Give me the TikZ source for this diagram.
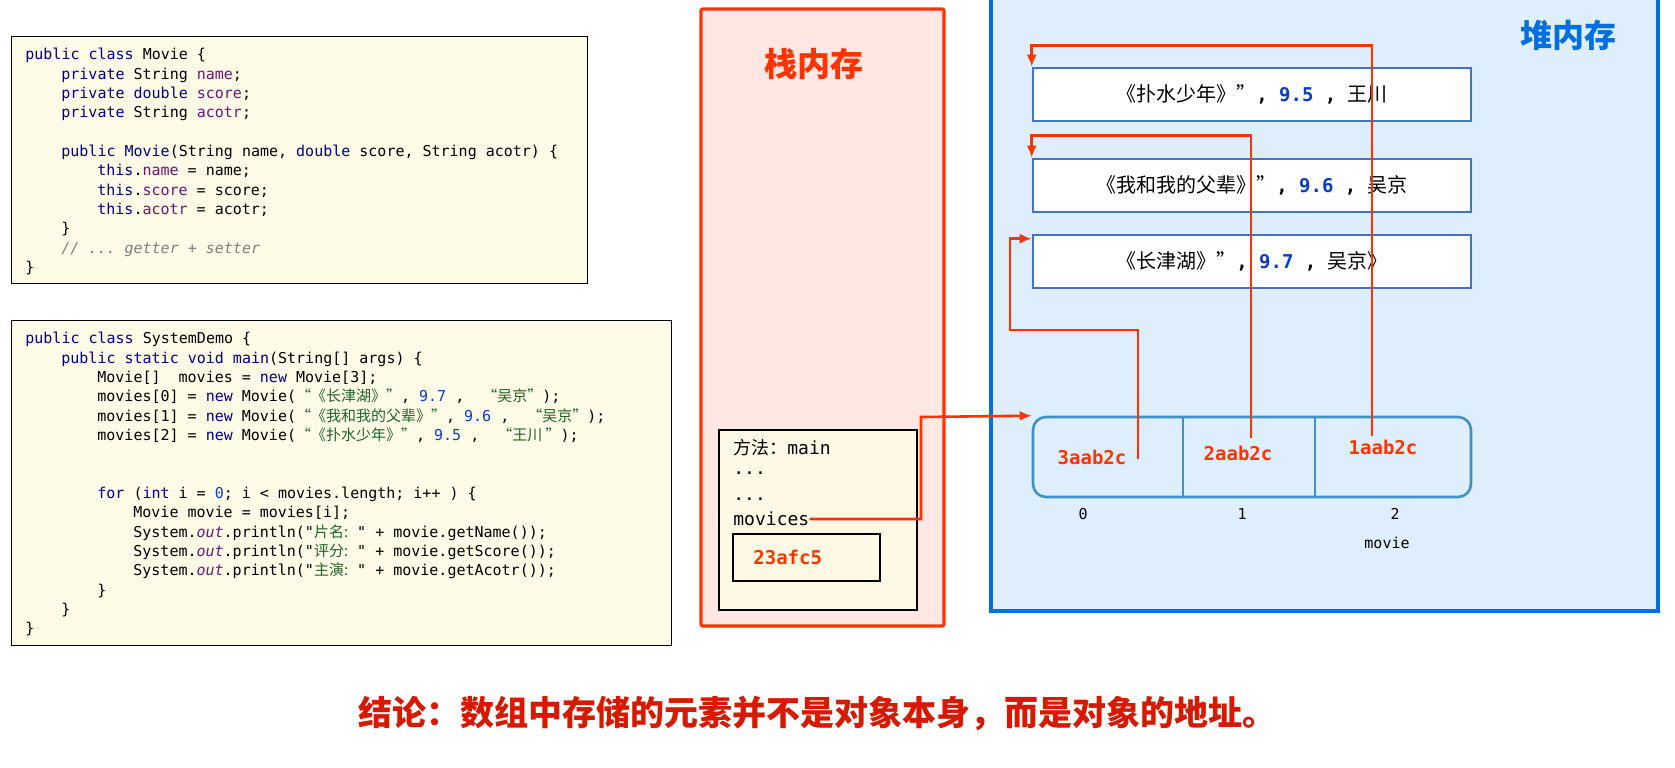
\documentclass[tikz,border=0pt]{standalone}
\usepackage{fontspec}
\setmonofont{DejaVu Sans Mono}
\newfontfamily\cjk{Noto Sans CJK SC}
\usetikzlibrary{arrows.meta}

\definecolor{stackred}{RGB}{255,51,0}
\definecolor{stackfill}{RGB}{255,231,228}
\definecolor{heapblue}{RGB}{0,112,224}
\definecolor{heapfill}{RGB}{222,238,253}
\definecolor{objblue}{RGB}{68,114,196}
\definecolor{arrblue}{RGB}{65,145,195}
\definecolor{cream}{RGB}{254,251,230}
\definecolor{framefill}{RGB}{255,248,228}
\definecolor{kwcol}{RGB}{0,0,140}
\definecolor{fdcol}{RGB}{110,20,120}
\definecolor{numcol}{RGB}{10,60,200}
\definecolor{strcol}{RGB}{30,100,40}
\definecolor{cmcol}{RGB}{128,128,128}
\definecolor{endred}{RGB}{215,25,0}

\newcommand\codefont{\ttfamily\fontsize{7.5}{9.67}\selectfont\frenchspacing}
\newcommand\ind[1]{\hspace*{#1\dimexpr0.6em\relax}}
\newcommand\kw[1]{{\color{kwcol}#1}}
\newcommand\fd[1]{{\color{fdcol}#1}}
\newcommand\jnum[1]{{\color{numcol}#1}}
\newcommand\jstr[1]{{\color{strcol}\cjk #1}}
\newcommand\jcm[1]{{\color{cmcol}\itshape #1}}
\newcommand\jout[1]{{\color{fdcol}\itshape #1}}
\newcommand\hnum[1]{{\ttfamily\bfseries\fontsize{9.5}{11}\selectfont, {\color{numcol}#1} , }}

\begin{document}
\begin{tikzpicture}[x=0.5pt,y=-0.5pt,
  codebox/.style={draw=black, line width=0.5pt, fill=cream},
  code/.style={font=\codefont, align=left, anchor=north west, inner sep=0pt},
  stacktxt/.style={font=\ttfamily\fontsize{9}{11}\selectfont, anchor=west, inner sep=0pt},
  objbox/.style={draw=objblue, line width=1.3pt, fill=white, minimum width=219pt,
    minimum height=26.5pt, font=\cjk\fontsize{10}{12}\selectfont},
  addr/.style={text=stackred, font=\ttfamily\bfseries\fontsize{9.5}{11}\selectfont},
  idx/.style={font=\ttfamily\fontsize{7.5}{9}\selectfont},
  ref/.style={draw=stackred, line width=1.3pt, -{Latex[length=6pt,width=5pt]}},
]
\useasboundingbox (0,0) rectangle (1675,767);

% code of the Movie class
\draw[codebox] (11,36) rectangle (587,283);
\node[code] (movieCode) at (25,48) {%
\kw{public class} Movie \{\\
\ind{4}\kw{private} String \fd{name};\\
\ind{4}\kw{private double} \fd{score};\\
\ind{4}\kw{private} String \fd{acotr};\\[9.67pt]
\ind{4}\kw{public Movie}(String name, \kw{double} score, String acotr) \{\\
\ind{8}\kw{this}.\fd{name} = name;\\
\ind{8}\kw{this}.\fd{score} = score;\\
\ind{8}\kw{this}.\fd{acotr} = acotr;\\
\ind{4}\}\\
\ind{4}\jcm{// ... getter + setter}\\
\}};

% code of the demo
\draw[codebox] (11,320) rectangle (671,645);
\node[code] (demoCode) at (25,332) {%
\kw{public class} SystemDemo \{\\
\ind{4}\kw{public static void main}(String[] args) \{\\
\ind{8}Movie[]\ \ movies = \kw{new} Movie[3];\\
\ind{8}movies[0] = \kw{new} Movie(\jstr{“《长津湖》”}, \jnum{9.7} ,\ \ \jstr{“吴京”});\\
\ind{8}movies[1] = \kw{new} Movie(\jstr{“《我和我的父辈》”}, \jnum{9.6} ,\ \ \jstr{“吴京”});\\
\ind{8}movies[2] = \kw{new} Movie(\jstr{“《扑水少年》”}, \jnum{9.5} ,\ \ \jstr{“王川 ”});\\[19.34pt]
\ind{8}\kw{for} (\kw{int} i = \jnum{0}; i < movies.length; i++ ) \{\\
\ind{12}Movie movie = movies[i];\\
\ind{12}System.\jout{out}.println("\jstr{片名:} " + movie.getName());\\
\ind{12}System.\jout{out}.println("\jstr{评分:} " + movie.getScore());\\
\ind{12}System.\jout{out}.println("\jstr{主演:} " + movie.getAcotr());\\
\ind{8}\}\\
\ind{4}\}\\
\}};

% stack memory
\draw[draw=stackred, line width=1.6pt, fill=stackfill, rounded corners=1pt] (701,9) rectangle (944,626);
\node[text=stackred, font=\cjk\bfseries\fontsize{16.5}{18}\selectfont] (stackTitle) at (814,64) {栈内存};
\draw[fill=framefill, line width=0.7pt] (719,430) rectangle (917,610);
\node[stacktxt] (methodLbl) at (733,448) {{\cjk 方法：}main};
\node[stacktxt] (dotsA) at (733,473) {...};
\node[stacktxt] (dotsB) at (733,499) {...};
\node[stacktxt] (movices) at (733,519) {movices};
\draw[fill=framefill, line width=0.7pt] (733,534) rectangle (880,581);
\node[addr, anchor=west, inner sep=0pt] (stackAddr) at (753,557) {23afc5};

% heap memory
\draw[draw=heapblue, line width=1.6pt, fill=heapfill] (991,-10) rectangle (1658,611);
\node[text=heapblue, font=\cjk\bfseries\fontsize{16}{18}\selectfont] (heapTitle) at (1568,35) {堆内存};
\node[objbox] (obj2) at (1252,94.5) {《扑水少年》”\hnum{9.5}王川};
\node[objbox] (obj1) at (1252,185.5) {《我和我的父辈》”\hnum{9.6}吴京};
\node[objbox] (obj0) at (1252,261.5) {《长津湖》”\hnum{9.7}吴京》};

% the array
\node[draw=arrblue, line width=1.3pt, rounded corners=6.5pt, minimum width=219pt,
  minimum height=40pt] (arr) at (1252,457) {};
\draw[draw=arrblue, line width=1.3pt] (1183,417) -- (1183,497) (1315,417) -- (1315,497);
\node[addr] (addr0) at (1092,457) {3aab2c};
\node[addr] (addr1) at (1238,453) {2aab2c};
\node[addr] (addr2) at (1383,447) {1aab2c};
\node[idx] (idx0) at (1083,514) {0};
\node[idx] (idx1) at (1242,514) {1};
\node[idx] (idx2) at (1395,514) {2};
\node[idx] (arrName) at (1387,543) {movie};

% references
\coordinate (bendA) at (921,417);
\coordinate (tail0) at (1138,459);
\coordinate (kink0) at (1010,330);
\coordinate (tail1) at (1251,438);
\coordinate (tail2) at (1372,436);
\draw[ref] (movices.east) -| (bendA) -- (arr.north west);
\draw[ref] (tail0) |- (kink0) |- ([yshift=-2.5pt]obj0.north west);
\draw[ref] (tail1) |- ([yshift=11pt]obj1.north west) -- (obj1.north west);
\draw[ref] (tail2) |- ([yshift=10.5pt]obj2.north west) -- (obj2.north west);

% conclusion
\node[text=endred, font=\cjk\bfseries\fontsize{17}{20}\selectfont] (conclusion) at (817,713)
  {结论：数组中存储的元素并不是对象本身，而是对象的地址。};
\end{tikzpicture}
\end{document}
